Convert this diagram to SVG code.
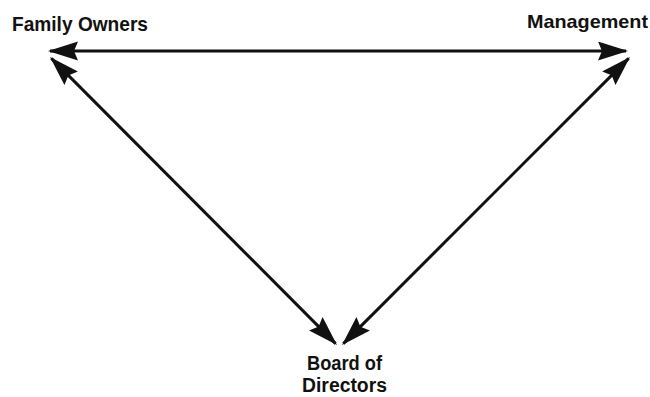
<svg xmlns="http://www.w3.org/2000/svg" width="650" height="397" viewBox="0 0 650 397">
<style>
.lbl{font-family:"Liberation Sans Narrow","Liberation Sans",Arial,sans-serif;font-weight:bold;fill:#111}
.conn{stroke:#111;stroke-width:3;fill:none;marker-start:url(#ah);marker-end:url(#ah)}
</style>
<defs>
<marker id="ah" markerUnits="userSpaceOnUse" markerWidth="32" markerHeight="20" refX="28" refY="9.5" orient="auto-start-reverse" viewBox="0 0 32 20">
<path d="M0,0 L30,9.5 L0,19 L4,9.5 z" fill="#111"/>
</marker>
</defs>
<rect width="650" height="397" fill="#fff"/>
<g id="connectors">
<line class="conn" x1="50" y1="51" x2="626" y2="51"/>
<line class="conn" x1="51.4" y1="58.4" x2="335.6" y2="343.6"/>
<line class="conn" x1="628.6" y1="58.4" x2="343.4" y2="343.6"/>
</g>
<g id="family-owners">
<text class="lbl" x="12" y="31" font-size="21" textLength="136" lengthAdjust="spacingAndGlyphs">Family Owners</text>
</g>
<g id="management">
<text class="lbl" x="527" y="28" font-size="19" textLength="121" lengthAdjust="spacingAndGlyphs">Management</text>
</g>
<g id="board-of-directors">
<text class="lbl" x="307" y="370" font-size="20" textLength="75" lengthAdjust="spacingAndGlyphs">Board of</text>
<text class="lbl" x="302" y="392" font-size="20" textLength="85" lengthAdjust="spacingAndGlyphs">Directors</text>
</g>
</svg>
